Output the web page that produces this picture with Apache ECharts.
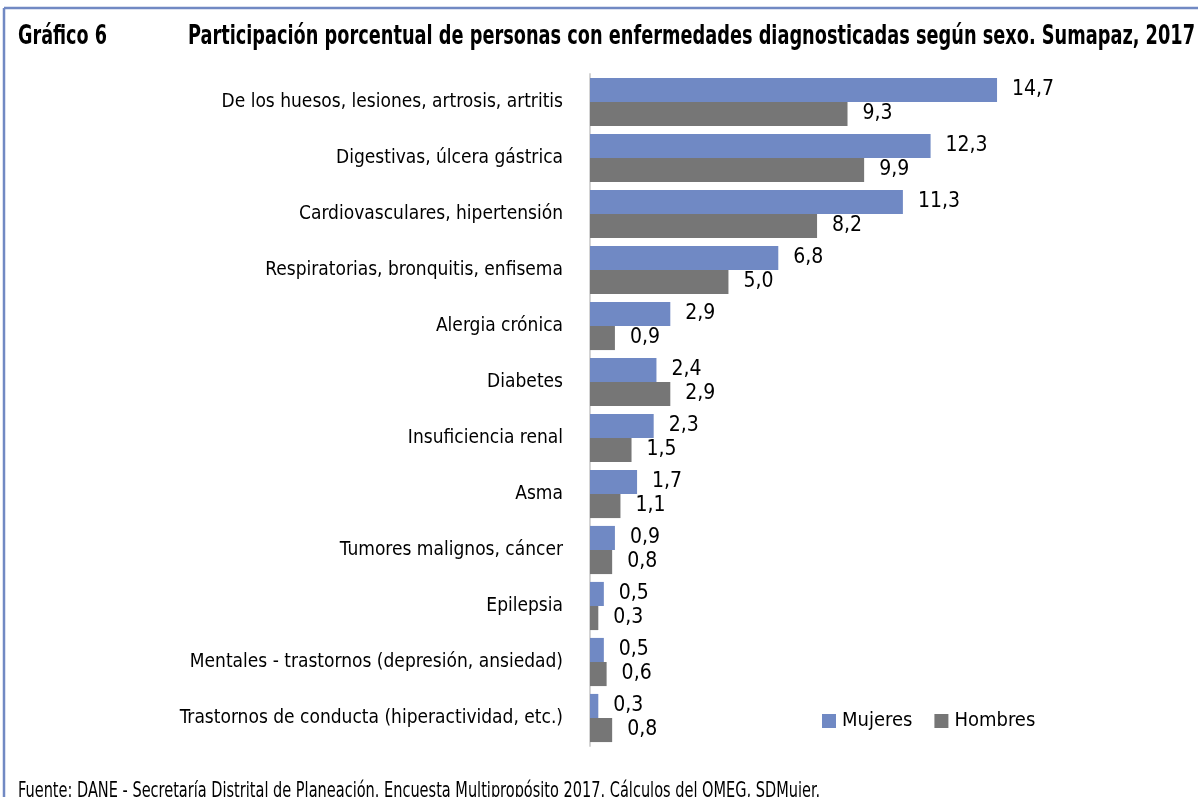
<!DOCTYPE html>
<html>
<head>
<meta charset="utf-8">
<script src="https://cdn.jsdelivr.net/npm/echarts@6/dist/echarts.min.js"></script>
<style>
  html, body { margin: 0; padding: 0; background: #ffffff; }
  #chart { width: 1198px; height: 797px; }
</style>
</head>
<body>
<div id="chart"></div>
<script>
// Diagnosed illnesses by sex, Sumapaz 2017 (percent)
const categories = [
  'De los huesos, lesiones, artrosis, artritis',
  'Digestivas, úlcera gástrica',
  'Cardiovasculares, hipertensión',
  'Respiratorias, bronquitis, enfisema',
  'Alergia crónica',
  'Diabetes',
  'Insuficiencia renal',
  'Asma',
  'Tumores malignos, cáncer',
  'Epilepsia',
  'Mentales - trastornos (depresión, ansiedad)',
  'Trastornos de conducta (hiperactividad, etc.)'
];
const mujeres = [14.7, 12.3, 11.3, 6.8, 2.9, 2.4, 2.3, 1.7, 0.9, 0.5, 0.5, 0.3];
const hombres = [9.3, 9.9, 8.2, 5.0, 0.9, 2.9, 1.5, 1.1, 0.8, 0.3, 0.6, 0.8];

const chartLabel = 'Gráfico 6';
const chartTitle = 'Participación porcentual de personas con enfermedades diagnosticadas según sexo. Sumapaz, 2017';
const sourceNote = 'Fuente: DANE - Secretaría Distrital de Planeación. Encuesta Multipropósito 2017. Cálculos del OMEG, SDMujer.';

const FONT = '"DejaVu Sans Condensed", "Liberation Sans Narrow", sans-serif';
const frameColor = '#7189c3';

const fmt = p => p.value.toFixed(1).replace('.', ',');

// measure a string so the heading lines can be squeezed to a condensed width
const measureCtx = document.createElement('canvas').getContext('2d');
function textWidth(str, weight, size) {
  measureCtx.font = weight + ' ' + size + 'px ' + FONT;
  return measureCtx.measureText(str).width;
}
function squeezedText(str, x, y, weight, size, targetWidth) {
  const w = textWidth(str, weight, size);
  return {
    type: 'text', silent: true,
    x: x, y: y,
    scaleX: Math.min(1, targetWidth / w), scaleY: 1,
    originX: 0, originY: 0,
    style: { text: str, fontFamily: FONT, fontSize: size, fontWeight: weight,
             fill: '#000', textAlign: 'left', textVerticalAlign: 'middle' }
  };
}

const chart = echarts.init(document.getElementById('chart'), null, { renderer: 'canvas' });

chart.setOption({
  backgroundColor: '#ffffff',
  animation: false,
  textStyle: { fontFamily: FONT },
  legend: {
    data: ['Mujeres', 'Hombres'],
    left: 817, top: 706,
    itemWidth: 14, itemHeight: 14, itemGap: 22,
    icon: 'rect',
    textStyle: { fontFamily: FONT, fontSize: 20, color: '#000', padding: [0, 0, 0, 1] }
  },
  grid: { left: 590, top: 74, width: 553.8, height: 672, containLabel: false },
  xAxis: {
    type: 'value', min: 0, max: 20,
    show: false
  },
  yAxis: {
    type: 'category',
    data: categories,
    inverse: true,
    axisLine: { show: true, lineStyle: { color: '#d4d4d4', width: 2 } },
    axisTick: { show: false },
    axisLabel: { margin: 27, fontFamily: FONT, fontSize: 19, color: '#000',
                 padding: [4, 0, 0, 0] }
  },
  series: [
    {
      name: 'Mujeres', type: 'bar', data: mujeres,
      barGap: '0%', barCategoryGap: '14%',
      itemStyle: { color: '#7089c4' },
      label: { show: true, position: 'right', distance: 15, formatter: fmt,
               fontFamily: FONT, fontSize: 21, color: '#000', padding: [3, 0, 0, 0] }
    },
    {
      name: 'Hombres', type: 'bar', data: hombres,
      barGap: '0%', barCategoryGap: '14%',
      itemStyle: { color: '#767676' },
      label: { show: true, position: 'right', distance: 15, formatter: fmt,
               fontFamily: FONT, fontSize: 21, color: '#000', padding: [3, 0, 0, 0] }
    }
  ],
  graphic: [
    { type: 'line', silent: true, shape: { x1: 4, y1: 8, x2: 1198, y2: 8 },
      style: { stroke: frameColor, lineWidth: 2.5 } },
    { type: 'line', silent: true, shape: { x1: 4, y1: 8, x2: 4, y2: 797 },
      style: { stroke: frameColor, lineWidth: 2.5 } },
    squeezedText(chartLabel, 18, 37, 'bold', 27, 89),
    squeezedText(chartTitle, 188, 37, 'bold', 27, 1007),
    squeezedText(sourceNote, 18, 792, 'normal', 21, 802)
  ]
});
</script>
</body>
</html>
